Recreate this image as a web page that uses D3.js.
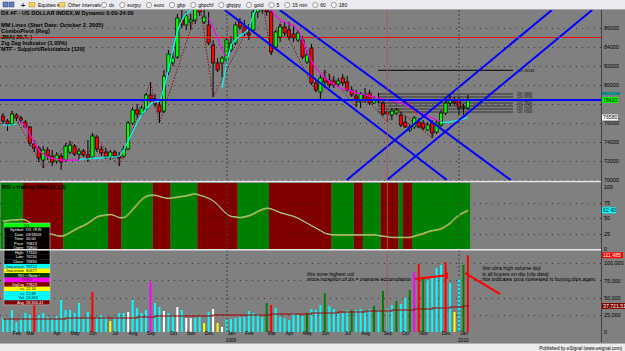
<!DOCTYPE html>
<html>
<head>
<meta charset="utf-8">
<script src="https://cdn.jsdelivr.net/npm/d3@7"></script>
<style>
  body { margin: 0; background: #808080; overflow: hidden; }
  svg { display: block; font-family: "Liberation Sans", Arial, sans-serif; }
</style>
</head>
<body>
<svg id="chart" width="625" height="351"></svg>
<script>
// ---------- data (weekly bars, index 0 = first week shown) ----------
const opens = [76740,76210,75890,76840,76530,76100,75580,73790,73370,72100,
  73160,72520,72000,72520,72100,72940,73580,72730,73050,72630,
  72420,74520,73260,72940,72420,72940,72520,72520,73260,76000,
  77370,76950,77470,78950,78530,77890,77260,81370,82320,82950,
  86840,86320,86630,86840,88110,86630,86320,84210,82320,82320,
  82630,83690,84420,86630,86110,85470,85790,87690,88320,87900,
  87690,84000,85050,86110,85790,85370,84740,84740,82420,83890,
  80210,79260,80740,80530,80420,80110,80740,80320,79470,78840,
  78210,78950,79160,78100,78420,78100,77160,76840,77050,76840,
  76100,75260,75580,76100,76000,75260,76000,75050,75790,77050,
  78100,78320,78420,77580,77580];
const highs = [77050,76420,77260,77050,76740,76310,75680,74210,73580,73580,
  73470,73160,72940,72840,73890,74100,73790,73370,73260,74210,
  74950,74730,73580,73370,73160,73160,72940,73580,76210,77680,
  78000,77790,79160,80320,79050,78420,81580,83690,83480,87480,
  88110,87690,87480,88530,88740,88000,87690,84740,82840,83050,
  84950,85160,86630,87050,86840,86420,88110,88740,88950,88740,
  88420,85790,86420,86630,86630,86320,85790,85160,83690,84320,
  80530,81050,81580,81160,80950,80740,81160,80950,79890,79470,
  79260,79680,79470,78840,79160,78420,77580,77580,77580,77160,
  76740,75890,76740,76530,76310,76100,76310,76310,77370,78630,
  78950,78740,78740,78000,78950];
const lows = [75890,75160,75680,76210,76000,75470,73580,72940,71890,71260,
  72100,71470,71680,71050,71890,72730,72520,72100,72420,71890,
  72210,72940,72520,72210,72100,72310,71470,72310,73160,75790,
  76530,76740,77260,78210,77680,76000,77050,81050,82000,82740,
  86000,85790,85790,86420,87270,86420,84210,78740,81370,80840,
  82420,83480,84210,85790,85160,84740,85580,87050,87480,87270,
  83160,83690,84530,85160,84740,84530,84530,82740,82210,80000,
  79260,78420,79680,79680,79680,79890,79890,79260,78740,77680,
  77580,78100,77890,78000,78100,76740,76100,76310,76840,75580,
  75470,75050,75370,75470,75260,75160,74420,74840,75580,76840,
  77790,77890,76840,76840,77370];
const closes = [76210,75890,76950,76530,76310,75580,73890,73370,72310,73160,
  72520,71890,72630,71890,73580,73680,72730,73050,72630,72310,
  74630,73260,72840,72420,72940,72520,72310,73260,76000,77370,
  76950,77580,78950,78530,78000,77160,80950,83260,82840,87050,
  86320,87270,86840,88110,87690,87160,84420,82320,81580,82840,
  84740,84420,86320,86110,85470,85260,87690,88320,87900,87690,
  83480,85580,86110,85470,85050,84950,85470,82950,83160,80210,
  79470,80740,80320,80000,80000,80420,80210,79470,78950,78530,
  79050,78420,78100,78420,78320,76950,76950,77260,77370,75790,
  75580,75580,76530,75580,75470,75790,74950,76000,77050,78100,
  78420,78100,77580,77680,78420];

const volumes = [20300,20300,32000,14500,20300,27600,24700,39200,24700,27600,
  21800,20300,23200,46500,32000,32000,27600,42100,20300,29000,
  58000,21800,24700,21800,16000,21800,27600,27600,29000,46500,
  34900,27600,32000,72600,42100,36300,30500,27600,24700,36300,
  32000,20300,20300,20300,21800,13100,29000,33400,13100,7300,
  18900,18900,20300,21800,21800,30500,27600,26200,21800,42100,
  39200,34900,21800,20300,17400,27600,24700,23200,27600,33400,
  32000,39200,56700,37800,33400,27600,27600,32000,32000,32000,
  33400,32000,33400,37800,32000,59600,34900,39200,45000,40700,
  49400,61000,87200,98800,80000,75600,78500,93000,97400,101700,
  71200,29000,78500,97400,111485];
// c cyan, r red, y yellow, w white, m magenta, g green
const volColorCodes = ("cccccccrcc" + "cccccccccc" + "rcccycccwc" + "cccmccwccw" + "cwwccycwyw" +
  "cccccccccg" + "rcccccccgc" + "ccgcccccgc" + "cccgcgccgc" + "cgmrgccccr" + "cycgr").split("");
const volAvg = [18900,18900,18900,18900,18900,18900,18900,18900,18900,18900,
  18900,18900,18900,18900,20300,20300,20300,20300,20300,20300,
  20300,20300,20300,20300,20300,20300,20300,20300,20300,20300,
  21800,21800,21800,21800,23200,23200,23200,23200,23200,23200,
  23200,23200,23200,23200,23200,23200,23200,24700,24700,24700,
  24700,24700,24700,24700,24700,24700,24700,24700,24700,24700,
  26200,26200,26200,26200,26200,26200,26200,26200,26200,27600,
  27600,27600,27600,27600,27600,29000,29000,29000,29000,29000,
  29000,30500,30500,30500,30500,30500,30500,32000,32000,32000,
  32000,32000,33400,33400,33400,33400,34900,34900,34900,34900,
  36300,36300,36300,37700,37721.51];

const rsi = [45,46,47,47,48,47,43,38,33,29,
  26,24,22,21,23,27,31,35,38,42,
  47,52,54,55,56,54,51,51,56,64,
  72,80,85,87,87,85,83,82,83,84,
  85,86,88,89,87,85,82,78,72,64,
  57,53,52,51,52,54,57,61,64,66,
  65,62,59,57,55,53,50,46,42,38,
  34,30,26,24,23,23,23,23,23,23,
  23,23,23,23,22,21,20,19,19,19,
  19,19,21,23,25,28,30,31,33,37,
  42,49,55,59,62.4];
// background zones of the RSI pane: bar index where a zone starts, colours alternate green/red
const rsiZoneStart = [0,5,14,24,27,34,38,44,53,60,74,79,81,85,89,90,92];

// trailing MM lines (cyan = up, magenta = down), start bar + values
const trailUpSegs = [
  { start: 0, vals: [75790,75790,75790,75890] },
  { start: 17, vals: [72100,72210,72210,72310,72310,72310,72420,72420,72420,72520,73160,74100,75050,76000,
    76840,77470,78000,78210,78320,79680,81580,83690,85580,86840,87480,87900,88110,88320,88420] },
  { start: 49, vals: [79680,82210,84110,84740,85160,85470,86000,87370,88320] },
  { start: 98, vals: [76000,76100,76100,76210,76310,76420,76580] }
];
const trailDnSegs = [
  { start: 4, vals: [76210,75580,74840,73990,73160,72730,72420,72310,72210,72100,72100,72100,72100,72100] },
  { start: 46, vals: [87050,86000,84950,83690,83050] },
  { start: 58, vals: [88740,88420,87900,87270,86840,86630,86420,86210,85790,84740,83470,82530,81790,81260,
    80740,80420,80110,79790,79580,79470,79370,79160,79050,78950,78840,78740,78630,78530,78420,78320,
    78210,78110,77890,77680,77370,77160,76950,76740,76530,76310,76210] }
];
const zigzag = [[2,77260],[9,71260],[15,74100],[19,71890],[20,74950],[26,71470],[33,80320],[35,76000],
  [44,88740],[47,78740],[58,88950],[60,83160],[62,86630],[70,79260],[72,81580],[79,77680],[80,79260],
  [86,76100],[88,77580],[96,74420],[100,78950]];
const pivotArc = [[89.8,78420],[90.8,78110],[91.7,77580],[92.6,76840]];

const trendLines = [
  [[49.6,87900],[99.3,70000]],
  [[61.9,87900],[113.6,70000]],
  [[76.9,70000],[122.8,87900]],
  [[85.9,70000],[131.8,87900]]
];
const redLevel = 85000, blueLevel = 78420;
const srTop = 81548;
const srLevels = [79050, 78740, 78110, 77790, 77470, 77160];
const srFrom = 83.9, srTo = 114.1;

const priceTicks = [70000,72000,74000,76000,78000,80000,82000,84000,86000];
const rsiTicks = [0,25,50,75,100];
const volTicks = [0,25000,50000,75000,100000];
const monthIdx = [3,6,12,16,20,25,29,33,38,42,46,51,55,60,64,68,72,77,81,86,90,94,99,103];
const monthLabels = ["Feb","Mar","Apr","May","Jun","Jul","Aug","Sep","Oct","Nov","Dec","Jan",
  "Feb","Mar","Apr","May","Jun","Jul","Aug","Sep","Oct","Nov","Dec","Jan"];
const yearLabels = [[51,"2009"],[103,"2010"]];
const yearSeps = [50.1, 102];
const markerIdx = 86;

const legendLines = [["DX #F - US DOLLAR INDEX,W Dynamic 0:00-24:00", 15], ["MM Lines (Start Date: October 2, 2005)", 27],
  ["ComboPivot (Reg)", 32.5], ["JMA( 20,7, )", 38.5], ["Zig Zag Indicator (1.00%)", 45], ["MTF - Support/Resistance (120)", 51]];
const toolbarItems = ["dx","eurjpy","euro","gbp","gbpchf","gbpjpy","gold","5","15 min","60","180"];
const dataWindow = [
  ["", "DX", "#00ff00", "#000"],
  ["Symbol", "DX #F,W", "#000", "#fff"],
  ["Date", "09/18/09", "#000", "#fff"],
  ["Time", "00:00", "#000", "#fff"],
  ["Price", "76823", "#000", "#fff"],
  ["Open", "76800", "#000", "#fff"],
  ["High", "77340", "#000", "#fff"],
  ["Low", "76230", "#000", "#fff"],
  ["Close", "76890", "#000", "#fff"],
  ["Jma,erase", "76722", "#00ffff", "#000"],
  ["Jma,erase", "80677", "#ffff00", "#000"],
  ["RO", "\u2022 None \u2022", "#003c00", "#fff"],
  ["", "78462", "#ff00ff", "#000"],
  ["ZigZag", "77823", "#800000", "#fff"],
  ["rsi", "22.16", "#ffff00", "#000"],
  ["rsi", "22.89", "#00ffff", "#000"],
  ["Vol", "53,666", "#00ffff", "#000"],
  ["Avg", "28,306.41", "#800000", "#fff"]
];

// ---------- layout ----------
const W = 625, H = 351, AX = 601;
const svg = d3.select("#chart");
const x = d3.scaleLinear().domain([0, 104]).range([3, 467.9]);
const yP = d3.scaleLinear().domain([70000, 86000]).range([180, 28]);
const yR = d3.scaleLinear().domain([0, 100]).range([249, 187]);
const yV = d3.scaleLinear().domain([0, 100000]).range([332, 263.2]);
const idx = d3.range(closes.length);
const volColor = { c: "#00ffff", r: "#ff0000", y: "#ffff00", w: "#ffffff", m: "#ff00ff", g: "#008000" };

const defs = svg.append("defs");
function addClip(id, y0, y1) {
  defs.append("clipPath").attr("id", id).append("rect")
    .attr("x", 0).attr("y", y0).attr("width", AX).attr("height", y1 - y0);
}
addClip("cP", 10, 181);
addClip("cR", 183, 249);
addClip("cV", 251, 332);

svg.append("rect").attr("width", W).attr("height", H).attr("fill", "#808080");

// ---------- RSI pane background zones ----------
const gR = svg.append("g").attr("clip-path", "url(#cR)");
rsiZoneStart.forEach((s, k) => {
  const e = k + 1 < rsiZoneStart.length ? rsiZoneStart[k + 1] : closes.length;
  gR.append("rect")
    .attr("x", x(s - 0.5)).attr("width", x(e - 0.5) - x(s - 0.5))
    .attr("y", 183).attr("height", 66)
    .attr("fill", k % 2 === 0 ? "#008000" : "#800000");
});

// ---------- grids ----------
function dotted(g, ticks, scale) {
  g.selectAll("line.grid").data(ticks).join("line").attr("class", "grid")
    .attr("x1", 0).attr("x2", AX).attr("y1", d => Math.round(scale(d)) + 0.5).attr("y2", d => Math.round(scale(d)) + 0.5)
    .attr("stroke", "#3a3a3a").attr("stroke-dasharray", "1,5");
}
const gP = svg.append("g").attr("clip-path", "url(#cP)");
const gV = svg.append("g").attr("clip-path", "url(#cV)");
dotted(gP, priceTicks, yP);
dotted(gR, rsiTicks.slice(1, 4), yR);
dotted(gV, volTicks.slice(1), yV);

// vertical separators through all panes
const gVert = svg.append("g");
yearSeps.forEach(d => {
  gVert.append("line").attr("x1", x(d)).attr("x2", x(d)).attr("y1", 10).attr("y2", 332)
    .attr("stroke", "#404040").attr("stroke-dasharray", "2,2");
});
gVert.append("line").attr("x1", x(markerIdx)).attr("x2", x(markerIdx)).attr("y1", 10).attr("y2", 332)
  .attr("stroke", "#b85050").attr("stroke-width", 0.8);

// ---------- price pane ----------
gP.append("line").attr("x1", 0).attr("x2", AX).attr("y1", yP(redLevel)).attr("y2", yP(redLevel))
  .attr("stroke", "#ff0000").attr("stroke-width", 1);

// support / resistance lines
gP.append("line").attr("x1", x(srFrom)).attr("x2", x(srTo)).attr("y1", yP(srTop)).attr("y2", yP(srTop))
  .attr("stroke", "#000").attr("stroke-width", 1);
gP.append("text").attr("x", x(srTo) + 4).attr("y", yP(srTop) + 1.3)
  .attr("font-size", 3.4).attr("fill", "#000").text("120: " + srTop);
srLevels.forEach(lv => {
  gP.append("line").attr("x1", x(srFrom)).attr("x2", x(srTo)).attr("y1", yP(lv)).attr("y2", yP(lv))
    .attr("stroke", "#303030").attr("stroke-width", 1.1);
  gP.append("text").attr("x", x(srTo) + 4).attr("y", yP(lv) + 1.2)
    .attr("font-size", 3.0).attr("fill", "#000").text("120: " + lv);
});

// zig zag
const lineP = d3.line().x(d => x(d[0])).y(d => yP(d[1]));
gP.append("path").datum(zigzag).attr("d", lineP).attr("fill", "none")
  .attr("stroke", "#8b1010").attr("stroke-width", 1).attr("stroke-dasharray", "1.5,1.5");

// candles
gP.selectAll("line.wick").data(idx).join("line").attr("class", "wick")
  .attr("x1", i => x(i)).attr("x2", i => x(i))
  .attr("y1", i => yP(highs[i])).attr("y2", i => yP(lows[i]))
  .attr("stroke", "#000").attr("stroke-width", 1);
gP.selectAll("rect.body").data(idx).join("rect").attr("class", "body")
  .attr("x", i => x(i) - 1.6).attr("width", 3.2)
  .attr("y", i => yP(Math.max(opens[i], closes[i])))
  .attr("height", i => Math.max(1, Math.abs(yP(opens[i]) - yP(closes[i]))))
  .attr("fill", i => closes[i] >= opens[i] ? "#00ff00" : "#ff0000")
  .attr("stroke", "#000").attr("stroke-width", 0.7);

// trailing lines
trailDnSegs.forEach(s => {
  gP.append("path").datum(s.vals.map((v, k) => [s.start + k, v])).attr("d", lineP.curve(d3.curveMonotoneX))
    .attr("fill", "none").attr("stroke", "#ff00ff").attr("stroke-width", 1.2);
});
trailUpSegs.forEach(s => {
  gP.append("path").datum(s.vals.map((v, k) => [s.start + k, v])).attr("d", lineP.curve(d3.curveMonotoneX))
    .attr("fill", "none").attr("stroke", "#00ffff").attr("stroke-width", 1.2);
});
gP.append("path").datum(pivotArc).attr("d", lineP.curve(d3.curveBasis))
  .attr("fill", "none").attr("stroke", "#ff2020").attr("stroke-width", 1.2);

// trend lines and the blue horizontal
trendLines.forEach(t => {
  gP.append("path").datum(t).attr("d", lineP.curve(d3.curveLinear))
    .attr("fill", "none").attr("stroke", "#0000ff").attr("stroke-width", 2);
});
gP.append("line").attr("x1", 0).attr("x2", AX).attr("y1", yP(blueLevel)).attr("y2", yP(blueLevel))
  .attr("stroke", "#0000ff").attr("stroke-width", 2);

// legend
legendLines.forEach(([t, yy]) => {
  svg.append("text").attr("x", 1).attr("y", yy).attr("font-size", 5.6).attr("font-weight", "bold")
    .attr("fill", "#000").text(t);
});

// ---------- RSI pane ----------
const lineR = d3.line().x((d, i) => x(i)).y(d => yR(d)).curve(d3.curveMonotoneX);
gR.append("path").datum(rsi).attr("d", lineR).attr("fill", "none").attr("stroke", "#ff9900").attr("stroke-width", 0.9)
  .attr("transform", "translate(0.6,0.6)");
gR.append("path").datum(rsi).attr("d", lineR).attr("fill", "none").attr("stroke", "#30b8ff").attr("stroke-width", 0.9)
  .attr("transform", "translate(-0.5,0)");
gR.append("path").datum(rsi).attr("d", lineR).attr("fill", "none").attr("stroke", "#e8e840").attr("stroke-width", 0.6);
svg.append("text").attr("x", 2).attr("y", 189).attr("font-size", 5.3).attr("font-weight", "bold").attr("fill", "#000")
  .text("RSI + trailing SMA(14,2,2)");

// ---------- volume pane ----------
gV.selectAll("rect.vol").data(idx).join("rect").attr("class", "vol")
  .attr("x", i => x(i) - 1).attr("width", 2)
  .attr("y", i => yV(volumes[i])).attr("height", i => yV(0) - yV(volumes[i]))
  .attr("fill", i => volColor[volColorCodes[i]]);
gV.append("path").datum(volAvg)
  .attr("d", d3.line().x((d, i) => x(i)).y(d => yV(d)).curve(d3.curveStepAfter))
  .attr("fill", "none").attr("stroke", "#a00000").attr("stroke-width", 1.1);

// annotations
const annot = svg.append("g").attr("font-size", 5.2).attr("fill", "#000");
annot.append("text").attr("x", x(68)).attr("y", yV(81000)).text("this zone highest vol");
annot.append("text").attr("x", x(68)).attr("y", yV(74000)).text("since inception of dx = massive accumulation");
annot.append("text").attr("x", x(107.2)).attr("y", yV(90000)).text("this ultra high volume doji");
annot.append("text").attr("x", x(107.2)).attr("y", yV(82000)).text("is all buyers on dip (nfp data)");
annot.append("text").attr("x", x(107.2)).attr("y", yV(74000)).text("this indicates pros interested in buying dips again");
const redAnn = [[[92.2,77000],[99.3,82500]], [[99.3,86500],[99.3,77500]], [[103.4,85700],[111.2,55200]]];
const lineV = d3.line().x(d => x(d[0])).y(d => yV(d[1]));
redAnn.forEach(s => svg.append("path").datum(s).attr("d", lineV).attr("stroke", "#ff0000").attr("stroke-width", 2).attr("fill", "none"));

// ---------- data window ----------
const dw = svg.append("g");
const rowH = 4.55, dwX = 4, dwY = 223, dwW = 46;
dataWindow.forEach((r, k) => {
  const yy = dwY + k * rowH;
  dw.append("rect").attr("x", dwX).attr("y", yy).attr("width", dwW).attr("height", rowH).attr("fill", r[2]);
  if (r[0]) dw.append("text").attr("x", dwX + 20).attr("y", yy + 3.6).attr("text-anchor", "end")
    .attr("font-size", 3.9).attr("fill", r[3]).text(r[0] + (k < 9 ? ":" : ""));
  dw.append("text").attr("x", r[0] ? dwX + 22 : dwX + dwW / 2).attr("y", yy + 3.6)
    .attr("text-anchor", r[0] ? "start" : "middle").attr("font-size", 3.9).attr("fill", r[3]).text(r[1]);
});
dw.append("rect").attr("x", dwX).attr("y", dwY).attr("width", dwW).attr("height", rowH * dataWindow.length)
  .attr("fill", "none").attr("stroke", "#c0c0c0").attr("stroke-width", 0.6);

// ---------- pane separators & right axis ----------
[181.5, 249.8].forEach(yy => svg.append("line").attr("x1", 0).attr("x2", AX).attr("y1", yy).attr("y2", yy)
  .attr("stroke", "#e8e8e8").attr("stroke-width", 1.4));
svg.append("line").attr("x1", AX + 0.5).attr("x2", AX + 0.5).attr("y1", 10).attr("y2", 342).attr("stroke", "#404040");

function rightAxis(scale, ticks, fmt) {
  const g = svg.append("g").attr("transform", `translate(${AX},0)`)
    .call(d3.axisRight(scale).tickValues(ticks).tickSize(0).tickPadding(3).tickFormat(fmt));
  g.select(".domain").remove();
  g.selectAll("text").attr("font-size", 5.4).attr("fill", "#000").attr("font-family", "Liberation Sans, Arial");
}
// the 78000 label sits under the last-price tag in the reference
rightAxis(yP, priceTicks.filter(d => d !== 78000), d3.format("d"));
rightAxis(yR, rsiTicks, d3.format("d"));
rightAxis(yV, volTicks, d3.format(","));

function tag(yy, txt, bg, fg, w) {
  svg.append("rect").attr("x", AX + 1).attr("y", yy - 3).attr("width", w).attr("height", 6).attr("fill", bg);
  svg.append("text").attr("x", AX + 2).attr("y", yy + 2).attr("font-size", 5.2).attr("fill", fg).text(txt);
}
const last = closes.length - 1;
svg.append("rect").attr("x", AX + 1).attr("y", yP(highs[last]) - 3).attr("width", 18).attr("height", 3).attr("fill", "#008b8b");
tag(yP(closes[last]), d3.format("d")(closes[last]), "#00ff00", "#000", 16);
tag(yP(trailUpSegs[3].vals[6]), d3.format("d")(trailUpSegs[3].vals[6]), "#ffffff", "#000", 16);
tag(yR(rsi[last]), d3.format(".2f")(rsi[last]), "#00ffff", "#000", 14);
tag(yV(volumes[last]), d3.format(",")(volumes[last]), "#ff0000", "#fff", 21);
tag(yV(volAvg[last]), d3.format(",.2f")(volAvg[last]), "#800000", "#fff", 23);

// ---------- date axis ----------
const gx = svg.append("g").attr("transform", "translate(0,331.5)")
  .call(d3.axisBottom(x).tickValues(monthIdx).tickSize(0).tickPadding(0.5).tickFormat((d, i) => monthLabels[i]));
gx.select(".domain").remove();
gx.selectAll("text").attr("font-size", 4.8).attr("fill", "#000");
yearLabels.forEach(([i, t]) => svg.append("text").attr("x", x(i)).attr("y", 342.3).attr("text-anchor", "middle")
  .attr("font-size", 4.6).attr("fill", "#000").text(t));

// ---------- toolbar & footer ----------
svg.append("rect").attr("width", W).attr("height", 10).attr("fill", "#ecebf0");
svg.append("line").attr("x1", 0).attr("x2", W).attr("y1", 9.5).attr("y2", 9.5).attr("stroke", "#a8a8b0");
const tb = svg.append("g").attr("font-size", 5).attr("fill", "#000");
[3, 9].forEach(px => tb.append("rect").attr("x", px).attr("y", 2).attr("width", 5).attr("height", 5)
  .attr("fill", "#6080c0").attr("stroke", "#304070").attr("stroke-width", 0.5));
tb.append("text").attr("x", 21).attr("y", 7.5).attr("font-size", 7).attr("font-weight", "bold").text("+");
[[29, "Equities"], [59, "Other Intervals"]].forEach(([px, t]) => {
  tb.append("rect").attr("x", px).attr("y", 2.5).attr("width", 6).attr("height", 4.5).attr("fill", "#f0d060")
    .attr("stroke", "#a08020").attr("stroke-width", 0.4);
  tb.append("text").attr("x", px + 9).attr("y", 7).text(t + "  \u25be");
});
let cx = 104;
toolbarItems.forEach(t => {
  tb.append("circle").attr("cx", cx).attr("cy", 5).attr("r", 2.6).attr("fill", "#fff").attr("stroke", "#404040").attr("stroke-width", 0.5);
  const tx = tb.append("text").attr("x", cx + 5).attr("y", 7).text(t);
  cx = cx + 5 + tx.node().getComputedTextLength() + 8;
});

svg.append("rect").attr("y", 343.5).attr("width", W).attr("height", 8).attr("fill", "#ececec");
svg.append("line").attr("x1", 0).attr("x2", W).attr("y1", 343.5).attr("y2", 343.5).attr("stroke", "#b0b0b0");
svg.append("text").attr("x", 622).attr("y", 349.8).attr("text-anchor", "end").attr("font-size", 4.6)
  .attr("fill", "#000").text("Published by eSignal (www.esignal.com)");
</script>
</body>
</html>
